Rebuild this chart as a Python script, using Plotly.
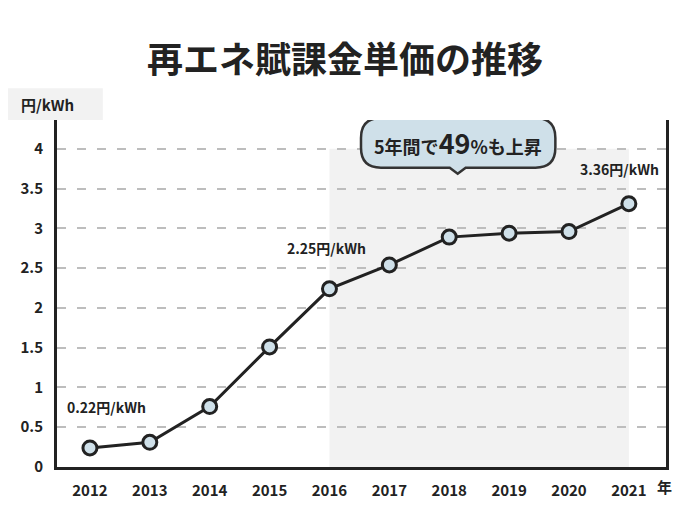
import plotly.graph_objects as go

years = [2012, 2013, 2014, 2015, 2016, 2017, 2018, 2019, 2020, 2021]
price = [0.24, 0.31, 0.76, 1.51, 2.24, 2.54, 2.89, 2.94, 2.96, 3.31]
y_ticks = [0, 0.5, 1, 1.5, 2, 2.5, 3, 3.5, 4]
y_tick_text = ["0", "0.5", "1", "1.5", "2", "2.5", "3", "3.5", "4"]

title = "再エネ賦課金単価の推移"
callout = "5年間で<span style='font-size:27px'>49</span>%も上昇"
labels = [(2012, "0.22円/kWh"), (2016, "2.25円/kWh"), (2021, "3.36円/kWh")]

FONT = "Noto Sans CJK JP"
INK = "#222222"
OFF = 8  # page body margin in the browser
W, H = 690 - 2 * OFF, 520 - 2 * OFF
L, T = 55 - OFF, 120 - OFF
R, B = W - (666 - OFF), H - (469 - OFF)
PW, PH = W - L - R, H - T - B
xr = [2011.45, 2021.62]
yr = [0, 4.3625]

# screen pixel -> data helpers (for the callout placement)
def dx(px):
    return xr[0] + (px - OFF - L) / PW * (xr[1] - xr[0])

def dy(py):
    return yr[0] + (H + OFF - B - py) / PH * (yr[1] - yr[0])

def px_paper(px):
    return (px - OFF - L) / PW

def py_paper(py):
    return (H + OFF - B - py) / PH

fig = go.Figure()

fig.add_trace(go.Scatter(
    x=years, y=price, mode="lines+markers",
    line=dict(color=INK, width=3),
    marker=dict(size=14, color="#cfe0e9", line=dict(color=INK, width=3)),
    hoverinfo="skip", showlegend=False,
))

# shaded period 2016-2021
fig.add_shape(type="rect", xref="x", yref="y", x0=2016, x1=2021, y0=0, y1=4,
              fillcolor="#f2f2f2", line=dict(width=0), layer="below")

# y-axis unit box
fig.add_shape(type="rect", xref="paper", yref="paper",
              x0=px_paper(0), x1=px_paper(101), y0=py_paper(120), y1=py_paper(88),
              fillcolor="#f2f2f2", line=dict(width=0))
fig.add_annotation(text="円/kWh", xref="paper", yref="paper",
                   x=px_paper(45), y=py_paper(104), showarrow=False,
                   xanchor="center", yanchor="middle",
                   font=dict(family=FONT, size=15, color=INK, weight="bold"))

fig.add_annotation(text="年", xref="paper", yref="paper",
                   x=px_paper(664), y=py_paper(489), showarrow=False,
                   xanchor="center", yanchor="middle",
                   font=dict(family=FONT, size=15, color=INK, weight="bold"))

# callout bubble
x0, x1, y0, y1, r = 360, 555, 118, 168, 20
tipx, tipy, half = 457, 174, 8
pts = [
    f"M {dx(x0 + r)},{dy(y0)}",
    f"L {dx(x1 - r)},{dy(y0)}",
    f"Q {dx(x1)},{dy(y0)} {dx(x1)},{dy(y0 + r)}",
    f"L {dx(x1)},{dy(y1 - r)}",
    f"Q {dx(x1)},{dy(y1)} {dx(x1 - r)},{dy(y1)}",
    f"L {dx(tipx + half)},{dy(y1)}",
    f"L {dx(tipx)},{dy(tipy)}",
    f"L {dx(tipx - half)},{dy(y1)}",
    f"L {dx(x0 + r)},{dy(y1)}",
    f"Q {dx(x0)},{dy(y1)} {dx(x0)},{dy(y1 - r)}",
    f"L {dx(x0)},{dy(y0 + r)}",
    f"Q {dx(x0)},{dy(y0)} {dx(x0 + r)},{dy(y0)}",
    "Z",
]
fig.add_shape(type="path", xref="x", yref="y", path=" ".join(pts),
              fillcolor="#cfe0e9", line=dict(color="#333333", width=2.5))
fig.add_annotation(text=callout, xref="x", yref="y",
                   x=dx((x0 + x1) / 2), y=dy((y0 + y1) / 2), showarrow=False,
                   xanchor="center", yanchor="middle",
                   font=dict(family=FONT, size=18, color=INK, weight="bold"))

# value labels
label_pos = {2012: (105, 409), 2016: (325, 249), 2021: (619, 169)}
for yr_, txt in labels:
    px, py = label_pos[yr_]
    fig.add_annotation(text=txt, xref="x", yref="y", x=dx(px), y=dy(py),
                       showarrow=False, xanchor="center", yanchor="middle",
                       font=dict(family=FONT, size=14, color=INK, weight="bold"))

fig.update_layout(
    width=W, height=H,
    margin=dict(l=L, r=R, t=T, b=B),
    paper_bgcolor="white", plot_bgcolor="white",
    title=dict(text=title, x=0.5, xanchor="center", y=1 - (60 - OFF) / H,
               yanchor="middle",
               font=dict(family=FONT, size=36, color=INK, weight="bold")),
    xaxis=dict(range=xr, tickvals=years, ticktext=[str(y) for y in years],
               showgrid=False, zeroline=False, showline=True, linecolor=INK,
               linewidth=3, ticks="", ticklabelstandoff=8,
               tickfont=dict(family=FONT, size=15, color=INK, weight="bold")),
    yaxis=dict(range=yr, tickvals=y_ticks, ticktext=y_tick_text,
               showgrid=True, gridcolor="#bdbdbd", gridwidth=2, griddash="9px,11px",
               zeroline=False, showline=True, mirror=True, linecolor=INK,
               linewidth=3, ticks="", ticklabelstandoff=8,
               tickfont=dict(family=FONT, size=15, color=INK, weight="bold")),
)

fig.write_html("out.html")
